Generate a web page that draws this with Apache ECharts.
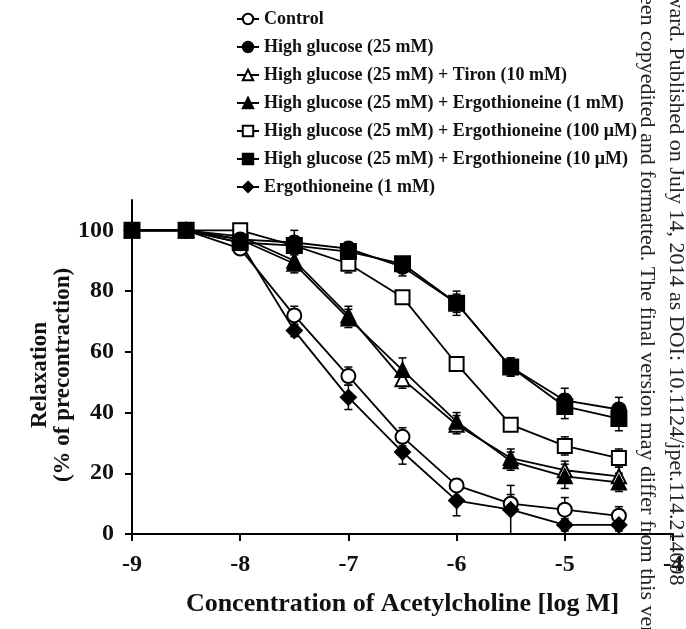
<!DOCTYPE html>
<html>
<head>
<meta charset="utf-8">
<script src="https://cdn.jsdelivr.net/npm/echarts@6/dist/echarts.min.js"></script>
<style>
html,body{margin:0;padding:0;background:#fff;}
#chart{width:686px;height:629px;}
</style>
</head>
<body>
<div id="chart"></div>
<script>
// log M concentrations
var xValues = [-9, -8.5, -8, -7.5, -7, -6.5, -6, -5.5, -5, -4.5];

var seriesNames = [
  'Control',
  'High glucose (25 mM)',
  'High glucose (25 mM) + Tiron (10 mM)',
  'High glucose (25 mM) + Ergothioneine (1 mM)',
  'High glucose (25 mM) + Ergothioneine (100 \u03bcM)',
  'High glucose (25 mM) + Ergothioneine (10 \u03bcM)',
  'Ergothioneine (1 mM)'
];

var control      = [100, 100, 94, 72, 52, 32, 16, 10, 8, 6];
var controlErr   = [0, 0, 1, 3, 3, 3, 2, 3, 4, 3];
var hg           = [100, 100, 97, 96, 94, 88, 76, 55, 44, 41];
var hgErr        = [0, 0, 1, 2, 2, 3, 3, 3, 4, 4];
var hgTiron      = [100, 100, 98, 90, 72, 51, 36, 25, 21, 19];
var hgTironErr   = [0, 0, 1, 2, 3, 3, 3, 3, 3, 3];
var hgErgo1mM    = [100, 100, 97, 89, 71, 54, 37, 24, 19, 17];
var hgErgo1mMErr = [0, 0, 1, 3, 3, 4, 3, 3, 4, 3];
var hgErgo100    = [100, 100, 100, 95, 89, 78, 56, 36, 29, 25];
var hgErgo100Err = [0, 0, 1, 2, 3, 2, 2, 2, 3, 3];
var hgErgo10     = [100, 100, 96, 95, 93, 89, 76, 55, 42, 38];
var hgErgo10Err  = [0, 0, 1, 5, 2, 2, 4, 3, 4, 4];
var ergo         = [100, 100, 96, 67, 45, 27, 11, 8, 3, 3];
var ergoErr      = [0, 0, 1, 2, 4, 4, 5, 8, 2, 2];

var yTicks = [0, 20, 40, 60, 80, 100];

var serif = '"Liberation Serif", "Times New Roman", serif';

function pairs(vals) {
  return xValues.map(function (x, i) { return [x, vals[i]]; });
}
function errData(vals, errs) {
  return xValues.map(function (x, i) { return [x, vals[i] - errs[i], vals[i] + errs[i]]; });
}

var defs = [
  {name: seriesNames[0], vals: control, errs: controlErr, symbol: 'circle', fill: '#fff', size: 14},
  {name: seriesNames[6], vals: ergo, errs: ergoErr, symbol: 'diamond', fill: '#000', size: 15},
  {name: seriesNames[2], vals: hgTiron, errs: hgTironErr, symbol: 'triangle', fill: '#fff', size: 14},
  {name: seriesNames[3], vals: hgErgo1mM, errs: hgErgo1mMErr, symbol: 'triangle', fill: '#000', size: 14},
  {name: seriesNames[4], vals: hgErgo100, errs: hgErgo100Err, symbol: 'rect', fill: '#fff', size: 14},
  {name: seriesNames[1], vals: hg, errs: hgErr, symbol: 'circle', fill: '#000', size: 14},
  {name: seriesNames[5], vals: hgErgo10, errs: hgErgo10Err, symbol: 'rect', fill: '#000', size: 15}
];

var series = [];
defs.forEach(function (d) {
  series.push({
    type: 'custom',
    name: d.name + ' err',
    silent: true,
    z: 2,
    data: errData(d.vals, d.errs),
    renderItem: function (params, api) {
      var lo = api.coord([api.value(0), api.value(1)]);
      var hi = api.coord([api.value(0), api.value(2)]);
      var w = 4;
      return {
        type: 'group',
        children: [
          {type: 'line', shape: {x1: lo[0], y1: lo[1], x2: hi[0], y2: hi[1]}, style: {stroke: '#000', lineWidth: 1.5}},
          {type: 'line', shape: {x1: lo[0] - w, y1: lo[1], x2: lo[0] + w, y2: lo[1]}, style: {stroke: '#000', lineWidth: 1.5}},
          {type: 'line', shape: {x1: hi[0] - w, y1: hi[1], x2: hi[0] + w, y2: hi[1]}, style: {stroke: '#000', lineWidth: 1.5}}
        ]
      };
    }
  });
  series.push({
    type: 'line',
    name: d.name,
    z: 3,
    data: pairs(d.vals),
    symbol: d.symbol,
    symbolSize: d.size,
    showAllSymbol: true,
    lineStyle: {color: '#000', width: 1.8},
    itemStyle: {color: d.fill, borderColor: '#000', borderWidth: 2},
    emphasis: {disabled: true},
    animation: false
  });
});

var chart = echarts.init(document.getElementById('chart'), null, {renderer: 'canvas'});
chart.setOption({
  animation: false,
  backgroundColor: '#fff',
  grid: {left: 132, right: 3, top: 200, bottom: 95, containLabel: false},
  legend: {
    orient: 'vertical',
    left: 231,
    top: 5,
    itemWidth: 22,
    itemHeight: 13,
    itemGap: 10,
    data: seriesNames,
    textStyle: {fontFamily: serif, fontWeight: 'bold', fontSize: 18, color: '#111'},
    selectedMode: false
  },
  xAxis: {
    type: 'value',
    min: -9, max: -4, interval: 1,
    axisLine: {onZero: false, lineStyle: {color: '#000', width: 2}},
    axisTick: {show: true, length: 7, lineStyle: {color: '#000', width: 2}},
    axisLabel: {fontFamily: serif, fontWeight: 'bold', fontSize: 24, color: '#111', margin: 19},
    splitLine: {show: false},
    name: 'Concentration of Acetylcholine [log M]',
    nameLocation: 'middle',
    nameGap: 57,
    nameMoveOverlap: false,
    nameTextStyle: {fontFamily: serif, fontWeight: 'bold', fontSize: 26, color: '#111'}
  },
  yAxis: {
    type: 'value',
    min: 0, max: 110,
    axisLine: {show: true, lineStyle: {color: '#000', width: 2}},
    axisTick: {show: true, length: 7, customValues: yTicks, lineStyle: {color: '#000', width: 2}},
    axisLabel: {fontFamily: serif, fontWeight: 'bold', fontSize: 24, color: '#111', margin: 18, customValues: yTicks},
    splitLine: {show: false},
    name: 'Relaxation\n(% of precontraction)',
    nameLocation: 'middle',
    nameRotate: 90,
    nameGap: 57,
    nameMoveOverlap: false,
    nameTextStyle: {fontFamily: serif, fontWeight: 'bold', fontSize: 23, lineHeight: 23, color: '#111', padding: [0, 16, 0, 0]}
  },
  graphic: [
    {type: 'text', x: 676, y: -38, rotation: -Math.PI / 2, z: 100,
     style: {text: 'Forward. Published on July 14, 2014 as DOI: 10.1124/jpet.114.214098', font: '22px "Liberation Serif", serif', fill: '#222', textAlign: 'left', textVerticalAlign: 'middle'}},
    {type: 'text', x: 647, y: -16, rotation: -Math.PI / 2, z: 100,
     style: {text: 'been copyedited and formatted. The final version may differ from this version.', font: '22px "Liberation Serif", serif', fill: '#222', textAlign: 'left', textVerticalAlign: 'middle'}}
  ],
  series: series
});
</script>
</body>
</html>
